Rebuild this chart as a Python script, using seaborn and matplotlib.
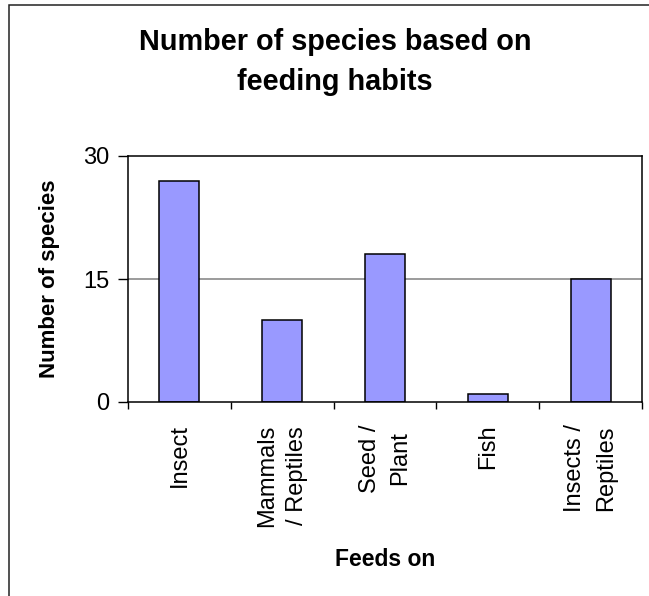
import matplotlib
matplotlib.use("Agg")
import matplotlib.pyplot as plt
from matplotlib.patches import Rectangle
import seaborn as sns
import pandas as pd

# data
categories = ["Insect", "Mammals\n/ Reptiles", "Seed /\nPlant", "Fish", "Insects /\nReptiles"]
species_counts = [27, 10, 18, 1, 15]
y_ticks = [0, 15, 30]

df = pd.DataFrame({"feeds_on": categories, "count": species_counts})

sns.set_style("white")
plt.rcParams["font.family"] = ["Liberation Sans", "DejaVu Sans"]
plt.rcParams["text.color"] = "black"
plt.rcParams["axes.labelcolor"] = "black"
plt.rcParams["xtick.color"] = "black"
plt.rcParams["ytick.color"] = "black"

fig = plt.figure(figsize=(6.49, 5.96), dpi=100)
ax = fig.add_axes([128 / 649, 1 - 402 / 596, 514 / 649, 246 / 596])

sns.barplot(data=df, x="feeds_on", y="count", color="#9999FF",
            edgecolor="black", linewidth=1.1, width=0.39, saturation=1, ax=ax)

ax.set_ylim(0, 30)
ax.set_xlim(-0.5, len(categories) - 0.5)
ax.set_yticks(y_ticks)
ax.set_yticklabels([str(v) for v in y_ticks], fontsize=17)
ax.axhline(15, color="#808080", linewidth=1.1, zorder=0)

# category labels at centres, tick marks at the boundaries
ax.set_xticks(range(len(categories)))
ax.set_xticklabels(categories, rotation=90, fontsize=17, va="top",
                   ha="center", multialignment="center")
for lbl in ax.get_xticklabels():
    lbl.set_linespacing(1.5)
ax.set_xticks([i - 0.5 for i in range(len(categories) + 1)], minor=True)
ax.tick_params(axis="x", which="major", length=0, pad=16)
ax.tick_params(axis="x", which="minor", length=5, width=1, color="black",
               direction="out", bottom=True)
ax.tick_params(axis="y", length=7, width=1, color="black", direction="out",
               left=True, pad=6.5)

for side in ax.spines.values():
    side.set_visible(True)
    side.set_color("black")
    side.set_linewidth(1.1)

ax.set_ylabel("Number of species", fontsize=16, fontweight="bold")
ax.set_xlabel("Feeds on", fontsize=16.5, fontweight="bold")
ax.yaxis.set_label_coords(-0.132, 0.5)
ax.xaxis.set_label_coords(0.5, -0.595)

fig.text(335 / 649, 1 - 62 / 596, "Number of species based on\nfeeding habits",
         ha="center", va="center", fontsize=20.8, fontweight="bold", linespacing=1.5)

# outer chart border (right and bottom fall outside the image)
fig.patches.append(Rectangle((9 / 649, -0.1), 1.2, 1.1 - 5 / 596,
                             transform=fig.transFigure, fill=False,
                             edgecolor="#222222", linewidth=1.1))

fig.savefig("out.png", dpi=100)
